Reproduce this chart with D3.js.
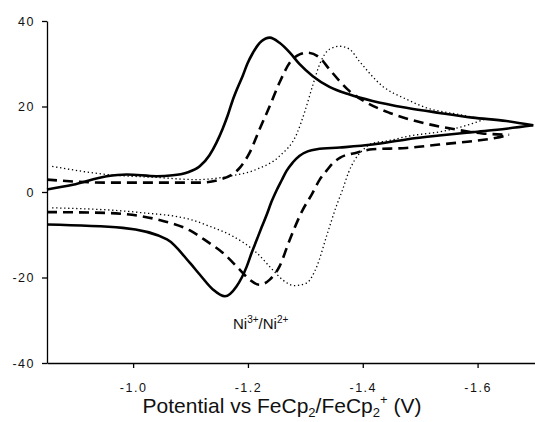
<!DOCTYPE html>
<html>
<head>
<meta charset="utf-8">
<script src="https://cdn.jsdelivr.net/npm/d3@7"></script>
<style>
  body { margin: 0; background: #fff; }
  text { font-family: "Liberation Sans", Arial, sans-serif; fill: #111; }
</style>
</head>
<body>
<div id="chart"></div>
<script>
// Potential (V vs FeCp2/FeCp2+) and current for each scan: forward (to the right) and return.
const solidFwdV = [-0.850, -0.895, -0.954, -0.989, -1.041, -1.069, -1.093, -1.116, -1.133, -1.145, -1.156, -1.165, -1.173, -1.182, -1.191, -1.199, -1.208, -1.217, -1.224, -1.231, -1.238, -1.255, -1.273, -1.290, -1.313, -1.342, -1.377, -1.417, -1.476, -1.533, -1.591, -1.650, -1.697];
const solidFwdI = [0.6, 1.7, 3.7, 4.1, 3.7, 3.9, 4.5, 6.0, 8.6, 11.5, 14.8, 18.0, 21.3, 24.4, 27.2, 30.0, 32.4, 34.3, 35.3, 35.9, 36.1, 34.9, 32.6, 29.9, 27.1, 24.6, 22.8, 21.3, 19.7, 18.5, 17.4, 16.6, 15.6];
const solidRevV = [-1.697, -1.650, -1.591, -1.533, -1.476, -1.417, -1.360, -1.320, -1.304, -1.290, -1.278, -1.267, -1.259, -1.250, -1.241, -1.233, -1.224, -1.215, -1.206, -1.198, -1.180, -1.160, -1.139, -1.116, -1.099, -1.059, -0.982, -0.850];
const solidRevI = [15.6, 14.8, 14.0, 13.2, 12.3, 11.1, 10.4, 10.0, 9.5, 8.5, 6.9, 4.9, 2.8, 0.4, -2.3, -5.2, -8.2, -11.3, -14.4, -17.4, -22.1, -24.4, -22.8, -19.3, -16.6, -11.1, -8.4, -7.6];

const dashFwdV = [-0.850, -0.954, -1.116, -1.151, -1.186, -1.203, -1.220, -1.238, -1.255, -1.273, -1.290, -1.304, -1.325, -1.342, -1.360, -1.377, -1.407, -1.447, -1.504, -1.563, -1.608, -1.655];
const dashFwdI = [2.9, 2.2, 2.2, 2.9, 5.7, 9.2, 14.6, 20.1, 25.6, 30.3, 32.2, 32.6, 31.4, 28.7, 25.9, 23.6, 20.9, 18.5, 16.2, 14.6, 13.7, 13.4];
const dashRevV = [-1.655, -1.633, -1.591, -1.533, -1.476, -1.417, -1.389, -1.360, -1.347, -1.337, -1.325, -1.311, -1.295, -1.273, -1.255, -1.238, -1.220, -1.203, -1.186, -1.156, -1.128, -1.099, -1.041, -0.954, -0.850];
const dashRevI = [13.4, 12.7, 11.9, 11.1, 10.3, 10.0, 9.2, 8.0, 6.6, 5.0, 2.9, -0.6, -4.3, -11.1, -17.4, -20.5, -21.7, -20.5, -18.2, -14.2, -11.5, -9.0, -6.4, -4.9, -4.7];

const dotFwdV = [-0.859, -0.954, -1.041, -1.111, -1.168, -1.215, -1.255, -1.285, -1.299, -1.313, -1.325, -1.342, -1.360, -1.377, -1.394, -1.434, -1.476, -1.511, -1.568, -1.612];
const dotFwdI = [6.0, 4.1, 3.4, 2.9, 3.7, 5.3, 8.4, 13.6, 18.8, 25.0, 29.9, 33.4, 34.1, 33.4, 30.6, 24.8, 21.7, 19.7, 18.1, 17.0];
const dotRevV = [-1.612, -1.586, -1.539, -1.481, -1.441, -1.417, -1.400, -1.386, -1.375, -1.365, -1.354, -1.337, -1.320, -1.302, -1.281, -1.260, -1.243, -1.215, -1.173, -1.133, -1.099, -1.012, -0.859];
const dotRevI = [17.0, 15.8, 14.2, 13.1, 11.9, 11.4, 9.8, 7.5, 4.5, 0.6, -3.3, -10.3, -17.4, -21.3, -21.9, -20.5, -18.2, -14.2, -10.3, -8.0, -6.4, -4.8, -3.7];

const xTicks = [-1.0, -1.2, -1.4, -1.6];
const yTicks = [-40, -20, 0, 20, 40];

const width = 535;
const height = 422;

const svg = d3.select("#chart")
  .append("svg")
  .attr("width", width)
  .attr("height", height);

const x = d3.scaleLinear().domain([-0.85, -1.70]).range([47, 535]);
const y = d3.scaleLinear().domain([-40, 40]).range([363, 21]);

// monotone curves need x increasing on screen, so the return branch is flipped
function branch(vs, is) {
  return vs.map((v, k) => [v, is[k]]).sort((a, b) => b[0] - a[0]);
}

const line = d3.line()
  .x((d) => x(d[0]))
  .y((d) => y(d[1]))
  .curve(d3.curveMonotoneX);

const curves = [
  { pts: branch(dotFwdV, dotFwdI), width: 1.3, dash: "1.3,2.7" },
  { pts: branch(dotRevV, dotRevI), width: 1.3, dash: "1.3,2.7" },
  { pts: branch(dashFwdV, dashFwdI), width: 2.6, dash: "10,6" },
  { pts: branch(dashRevV, dashRevI), width: 2.6, dash: "10,6" },
  { pts: branch(solidFwdV, solidFwdI), width: 2.6, dash: null },
  { pts: branch(solidRevV, solidRevI), width: 2.6, dash: null },
];

svg.selectAll("path.cv")
  .data(curves)
  .enter()
  .append("path")
  .attr("class", "cv")
  .attr("d", (d) => line(d.pts))
  .attr("fill", "none")
  .attr("stroke", "#000")
  .attr("stroke-width", (d) => d.width)
  .attr("stroke-dasharray", (d) => d.dash);

// axes
const xAxis = svg.append("g")
  .attr("transform", `translate(0,${y(-40)})`)
  .call(d3.axisBottom(x).tickValues(xTicks).tickSize(5).tickSizeOuter(0));
xAxis.select(".domain").attr("stroke", "#000").attr("stroke-width", 1.3);
xAxis.selectAll(".tick line").attr("stroke", "#000").attr("stroke-width", 1.3);
xAxis.selectAll(".tick text")
  .attr("font-size", "12.5px")
  .attr("font-family", "Liberation Sans, Arial, sans-serif")
  .attr("letter-spacing", "1.5px")
  .attr("fill", "#111")
  .attr("y", 29)
  .attr("dy", 0)
  .text((d) => d3.format(".1f")(d).replace("−", "-"));

const yAxis = svg.append("g")
  .attr("transform", `translate(${x(-0.85)},0)`)
  .call(d3.axisLeft(y).tickValues(yTicks).tickSize(5).tickSizeOuter(0));
yAxis.select(".domain").attr("stroke", "#000").attr("stroke-width", 1.3);
yAxis.selectAll(".tick line").attr("stroke", "#000").attr("stroke-width", 1.3);
yAxis.selectAll(".tick text")
  .attr("font-size", "12.5px")
  .attr("font-family", "Liberation Sans, Arial, sans-serif")
  .attr("letter-spacing", "1.5px")
  .attr("fill", "#111")
  .attr("x", -12)
  .text((d) => String(d));

// axis title with subscripts / superscripts
const title = svg.append("text")
  .attr("x", 282)
  .attr("y", 413)
  .attr("text-anchor", "middle")
  .attr("font-size", "21px");
title.append("tspan").text("Potential vs FeCp");
title.append("tspan").attr("font-size", "13px").attr("dy", 4).text("2");
title.append("tspan").attr("dy", -4).text("/FeCp");
title.append("tspan").attr("font-size", "13px").attr("dy", 4).text("2");
title.append("tspan").attr("font-size", "13px").attr("dy", -13).text("+");
title.append("tspan").attr("dy", 9).text(" (V)");

// redox couple label
const note = svg.append("text")
  .attr("x", 233)
  .attr("y", 329)
  .attr("font-size", "15px");
note.append("tspan").text("Ni");
note.append("tspan").attr("font-size", "10px").attr("dy", -6).text("3+");
note.append("tspan").attr("dy", 6).text("/Ni");
note.append("tspan").attr("font-size", "10px").attr("dy", -6).text("2+");
</script>
</body>
</html>
